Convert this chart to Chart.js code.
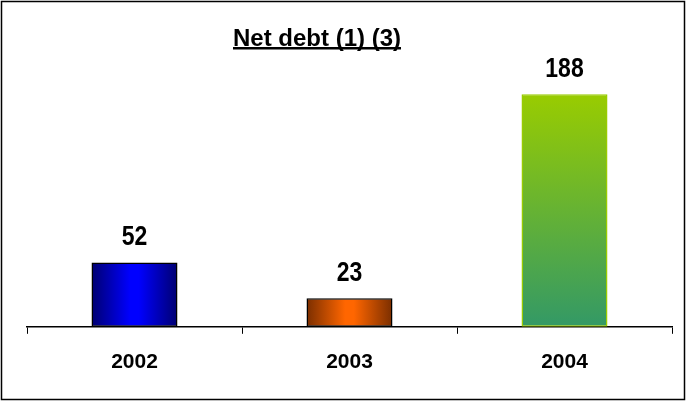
<!DOCTYPE html>
<html>
<head>
<meta charset="utf-8">
<script src="https://cdn.jsdelivr.net/npm/chart.js@4"></script>
<style>
  html, body { margin: 0; padding: 0; background: #fff; }
  #wrap { width: 686px; height: 401px; position: relative; }
</style>
</head>
<body>
<div id="wrap"><canvas id="chart" width="686" height="401"></canvas></div>
<script>
const years = ["2002", "2003", "2004"];
const netDebt = [52, 23, 188];
const chartTitle = "Net debt (1) (3)";

// per-bar gradient stops: [edge, centre] for horizontal, [top, bottom] for vertical
const barStyles = [
    { dir: "h", stops: ["#000070", "#0000ff"], border: "#000000" },
    { dir: "h", stops: ["#7a2e00", "#ff6600"], border: "#000000" },
    { dir: "v", stops: ["#99cc00", "#339966"], border: "#99cc00" },
];
const FONT = "'Liberation Sans', Arial, sans-serif";

function barFill(ctx) {
    const chart = ctx.chart;
    const area = chart.chartArea;
    if (!area || ctx.type !== "data") return "#888";
    const style = barStyles[ctx.dataIndex];
    const xs = chart.scales.x;
    const ys = chart.scales.y;
    const c = chart.ctx;
    if (style.dir === "h") {
        const cx = xs.getPixelForValue(ctx.dataIndex);
        const half = (xs.width / years.length) * 0.4 / 2;
        const g = c.createLinearGradient(cx - half, 0, cx + half, 0);
        g.addColorStop(0, style.stops[0]);
        g.addColorStop(0.45, style.stops[1]);
        g.addColorStop(0.55, style.stops[1]);
        g.addColorStop(1, style.stops[0]);
        return g;
    }
    const top = ys.getPixelForValue(netDebt[ctx.dataIndex]);
    const g = c.createLinearGradient(0, top, 0, ys.getPixelForValue(0));
    g.addColorStop(0, style.stops[0]);
    g.addColorStop(1, style.stops[1]);
    return g;
}

const decor = {
    id: "decor",
    afterDraw(chart) {
        const c = chart.ctx;
        c.save();
        // outer frame
        c.strokeStyle = "#000";
        c.lineWidth = 1.5;
        c.strokeRect(1.5, 1.5, chart.width - 3, chart.height - 3);
        // title with underline
        c.font = "bold 24px " + FONT;
        c.fillStyle = "#000";
        c.textAlign = "center";
        c.textBaseline = "alphabetic";
        const tx = 317, ty = 46;
        c.fillText(chartTitle, tx, ty);
        const w = c.measureText(chartTitle).width;
        c.fillRect(tx - w / 2, ty + 1, w, 2.5);
        // value labels (slightly tall glyphs like the original)
        c.font = "bold 23px " + FONT;
        const meta = chart.getDatasetMeta(0);
        meta.data.forEach((bar, i) => {
            c.save();
            c.translate(bar.x, bar.y - 17);
            c.scale(1, 1.2);
            c.fillText(String(netDebt[i]), 0, 0);
            c.restore();
        });
        c.restore();
    }
};

new Chart(document.getElementById("chart"), {
    type: "bar",
    data: {
        labels: years,
        datasets: [{
            data: netDebt,
            backgroundColor: barFill,
            borderColor: barStyles.map(s => s.border),
            borderWidth: 1.5,
            borderSkipped: false,
            categoryPercentage: 1,
            barPercentage: 0.4,
        }],
    },
    options: {
        responsive: false,
        animation: false,
        layout: { padding: { top: 83, left: 27, right: 14, bottom: 10 } },
        plugins: {
            legend: { display: false },
            tooltip: { enabled: false },
        },
        scales: {
            x: {
                grid: {
                    display: true,
                    drawOnChartArea: false,
                    drawTicks: true,
                    tickLength: 7,
                    color: "#000",
                    offset: true,
                },
                border: { display: true, color: "#000", width: 1.5 },
                ticks: {
                    color: "#000",
                    padding: 16,
                    font: { family: FONT, size: 21, weight: "bold" },
                },
            },
            y: {
                display: false,
                min: 0,
                max: 197,
            },
        },
    },
    plugins: [decor],
});
</script>
</body>
</html>
